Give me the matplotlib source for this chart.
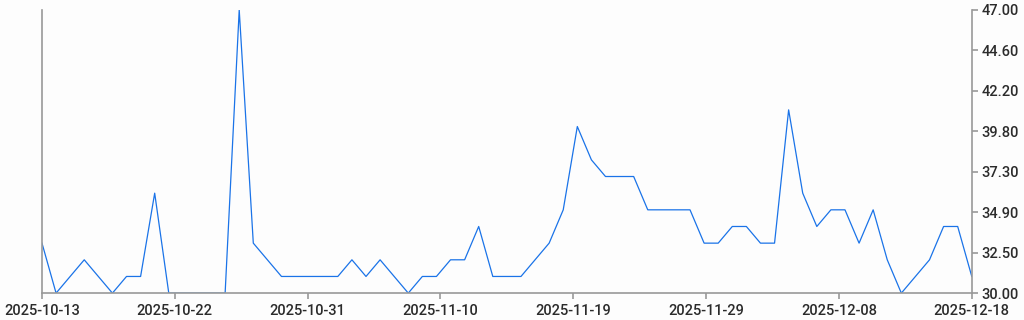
import numpy as np
import pandas as pd
import matplotlib
matplotlib.use('Agg')
import matplotlib.pyplot as plt

plt.rcParams['font.family'] = ['Roboto', 'DejaVu Sans']

# 일별 값 (2025-10-13 ~ 2025-12-18)
start_date = '2025-10-13'
values = [33, 30, 31, 32, 31, 30, 31, 31, 36, 30,
          30, 30, 30, 30, 47, 33, 32, 31, 31, 31,
          31, 31, 32, 31, 32, 31, 30, 31, 31, 32,
          32, 34, 31, 31, 31, 32, 33, 35, 40, 38,
          37, 37, 37, 35, 35, 35, 35, 33, 33, 34,
          34, 33, 33, 41, 36, 34, 35, 35, 33, 35,
          32, 30, 31, 32, 34, 34, 31]

x_labels = ['2025-10-13', '2025-10-22', '2025-10-31', '2025-11-10',
            '2025-11-19', '2025-11-29', '2025-12-08', '2025-12-18']
y_labels = ['30.00', '32.50', '34.90', '37.30', '39.80', '42.20', '44.60', '47.00']

dates = pd.date_range(start_date, periods=len(values), freq='D')
y_min, y_max = 30, 47

fig = plt.figure(figsize=(10.24, 3.2), dpi=100)
fig.set_facecolor('#fdfdfd')
ax = fig.add_axes([0.041, 0.084, 0.908, 0.885])
ax.set_facecolor('#fdfdfd')

ax.plot(dates, values, color='#1a73e8', linewidth=0.9)

ax.set_xlim(dates[0], dates[-1])
ax.set_ylim(y_min, y_max)

# 눈금은 균등 간격
xt = pd.date_range(dates[0], dates[-1], periods=len(x_labels))
ax.set_xticks(xt)
ax.set_xticklabels(x_labels, fontweight='medium')
ax.set_yticks(np.linspace(y_min, y_max, len(y_labels)))
ax.set_yticklabels(y_labels, fontweight='medium')

ax.yaxis.tick_right()
ax.spines['top'].set_visible(False)
for s in ['left', 'right', 'bottom']:
    ax.spines[s].set_color('#999999')
    ax.spines[s].set_linewidth(1.2)
ax.tick_params(axis='both', colors='#999999', length=4, width=1.2,
               labelcolor='#2b2b2b', labelsize=10.5)
ax.tick_params(axis='y', pad=3)

fig.savefig('out.png', dpi=100, facecolor=fig.get_facecolor())
